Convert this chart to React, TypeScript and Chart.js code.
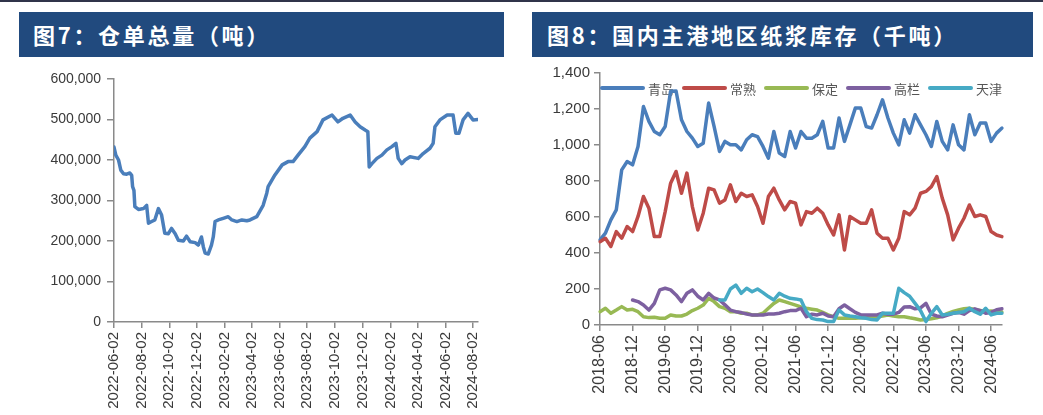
import React, { useEffect, useRef } from 'react';
import { Chart, registerables } from 'chart.js';

Chart.register(...registerables);

// ---------- Figure 7: warehouse receipts (tons) ----------
const receiptDates = [
  '2022-06-02', '2022-06-06', '2022-06-12', '2022-06-17', '2022-06-23', '2022-06-30',
  '2022-07-07', '2022-07-11', '2022-07-13', '2022-07-16', '2022-07-18', '2022-07-26',
  '2022-08-06', '2022-08-13', '2022-08-17', '2022-08-24', '2022-08-31', '2022-09-08',
  '2022-09-15', '2022-09-22', '2022-09-30', '2022-10-07', '2022-10-15', '2022-10-22',
  '2022-11-02', '2022-11-09', '2022-11-17', '2022-11-28', '2022-12-05', '2022-12-12',
  '2022-12-16', '2022-12-20', '2022-12-27', '2023-01-03', '2023-01-07', '2023-01-11',
  '2023-01-18', '2023-01-29', '2023-02-09', '2023-02-17', '2023-02-28', '2023-03-11',
  '2023-03-22', '2023-03-29', '2023-04-13', '2023-04-27', '2023-05-05', '2023-05-08',
  '2023-05-23', '2023-06-08', '2023-06-21', '2023-07-02', '2023-07-13', '2023-07-28',
  '2023-08-08', '2023-08-24', '2023-09-06', '2023-09-26', '2023-10-09', '2023-10-20',
  '2023-11-05', '2023-11-16', '2023-11-27', '2023-12-08', '2023-12-14', '2023-12-17',
  '2023-12-23', '2024-01-03', '2024-01-14', '2024-01-25', '2024-02-05', '2024-02-14',
  '2024-02-19', '2024-02-27', '2024-03-05', '2024-03-16', '2024-04-03', '2024-04-14',
  '2024-04-29', '2024-05-06', '2024-05-10', '2024-05-21', '2024-06-06', '2024-06-19',
  '2024-06-25', '2024-07-02', '2024-07-11', '2024-07-22', '2024-08-02', '2024-08-13',
];
const receiptValues = [
  432000, 412000, 400000, 375000, 366000, 365000,
  368000, 362000, 334000, 325000, 285000, 278000,
  280000, 288000, 244000, 248000, 252000, 280000,
  264000, 219000, 218000, 231000, 218000, 202000,
  200000, 212000, 198000, 196000, 190000, 210000,
  186000, 170000, 168000, 190000, 210000, 248000,
  252000, 256000, 260000, 252000, 248000, 252000,
  250000, 252000, 260000, 288000, 318000, 334000,
  363000, 388000, 396000, 396000, 412000, 433000,
  454000, 470000, 499000, 511000, 494000, 503000,
  511000, 494000, 482000, 474000, 470000, 383000,
  391000, 404000, 412000, 425000, 433000, 441000,
  404000, 391000, 400000, 408000, 404000, 416000,
  429000, 441000, 482000, 499000, 511000, 511000,
  466000, 466000, 499000, 515000, 499000, 500000,
];
const receiptTickLabels = [
  '2022-06-02', '2022-08-02', '2022-10-02', '2022-12-02', '2023-02-02', '2023-04-02', '2023-06-02',
  '2023-08-02', '2023-10-02', '2023-12-02', '2024-02-02', '2024-04-02', '2024-06-02', '2024-08-02',
];
const receiptAxisEnd = '2024-08-13';
const receiptYTicks = [0, 100000, 200000, 300000, 400000, 500000, 600000];

// ---------- Figure 8: pulp inventory at main ports (thousand tons) ----------
const portMonths = [
  '2018-06', '2018-07', '2018-08', '2018-09', '2018-10', '2018-11', '2018-12',
  '2019-01', '2019-02', '2019-03', '2019-04', '2019-05', '2019-06', '2019-07', '2019-08', '2019-09', '2019-10', '2019-11', '2019-12',
  '2020-01', '2020-02', '2020-03', '2020-04', '2020-05', '2020-06', '2020-07', '2020-08', '2020-09', '2020-10', '2020-11', '2020-12',
  '2021-01', '2021-02', '2021-03', '2021-04', '2021-05', '2021-06', '2021-07', '2021-08', '2021-09', '2021-10', '2021-11', '2021-12',
  '2022-01', '2022-02', '2022-03', '2022-04', '2022-05', '2022-06', '2022-07', '2022-08', '2022-09', '2022-10', '2022-11', '2022-12',
  '2023-01', '2023-02', '2023-03', '2023-04', '2023-05', '2023-06', '2023-07', '2023-08', '2023-09', '2023-10', '2023-11', '2023-12',
  '2024-01', '2024-02', '2024-03', '2024-04', '2024-05', '2024-06', '2024-07', '2024-08',
];
const portTickLabels = [
  '2018-06', '2018-12', '2019-06', '2019-12', '2020-06', '2020-12', '2021-06',
  '2021-12', '2022-06', '2022-12', '2023-06', '2023-12', '2024-06',
];
const portNames = ['青岛', '常熟', '保定', '高栏', '天津'];
const qingdao = [
  473, 510, 584, 640, 862, 908, 890, 992, 1214, 1131, 1075, 1057, 1103, 1298, 1300, 1140, 1075, 1038, 992, 1010,
  1233, 1103, 964, 1020, 1001, 1001, 973, 1029, 1057, 1047, 992, 927, 1075, 955, 936,
  1075, 983, 1075, 1038, 1038, 1057, 1131, 983, 983, 1150, 1020, 1112, 1205, 1205, 1103, 1094, 1168, 1251, 1150,
  1066, 1001, 1140, 1066, 1168, 1112, 1057, 992, 1131, 1020, 973, 1112, 1001, 973, 1168, 1057, 1122, 1122, 1020,
  1066, 1094,
];
const changshu = [
  463, 482, 436, 519, 482, 547, 519, 603, 714, 649, 491, 491, 630, 788, 853, 732, 844, 658, 528, 621,
  760, 751, 677, 695, 779, 686, 732, 714, 723, 658, 565, 714, 760, 695, 640,
  686, 677, 556, 630, 621, 649, 621, 556, 500, 612, 417, 603, 584, 565, 565, 640, 510, 482, 482,
  417, 482, 630, 612, 649, 732, 742, 769, 825, 705, 612, 473, 538, 593, 667, 603, 612, 603, 519,
  500, 491,
];
const baoding = [
  74, 93, 65, 83, 102, 83, 87, 74, 46, 41,
  43, 37, 37, 56, 50, 50, 61, 80, 93, 111,
  148, 130, 102, 93, 74, 74, 65, 65, 56, 56,
  65, 93, 120, 139, 130, 120, 110, 100, 93, 88,
  83, 70, 56, 45, 37, 37, 37, 37, 40, 40,
  40, 45, 50, 56, 50, 46, 46, 40, 35, 28,
  30, 35, 40, 50, 65, 75, 83, 90, 93, 85,
  80, 75, 78, 74, 72,
];
const gaolan = [
  null, null, null, null, null, null, 139, 130, 111, 83,
  120, 195, 204, 195, 167, 130, 176, 195, 160, 139,
  176, 150, 139, 112, 83, 74, 69, 61, 56, 56,
  56, 61, 61, 65, 74, 80, 80, 93, 46, 60,
  56, 65, 50, 46, 90, 111, 90, 70, 56, 56,
  56, 56, 65, 60, 60, 70, 100, 102, 90, 95,
  120, 60, 50, 46, 55, 65, 70, 60, 80, 90,
  80, 65, 70, 85, 90,
];
const tianjin = [
  null, null, null, null, null, null, null, null, null, null,
  null, null, null, null, null, null, null, null, null, null,
  null, null, 139, 139, 200, 222, 176, 204, 185, 200,
  180, 158, 139, 176, 160, 148, 145, 139, 74, 37,
  30, 28, 19, 19, 83, 56, 50, 46, 40, 37,
  30, 28, 65, 65, 65, 204, 180, 160, 120, 80,
  19, 65, 102, 56, 60, 65, 70, 74, 93, 74,
  60, 93, 56, 65, 65,
];
const portSeries = [qingdao, changshu, baoding, gaolan, tianjin];
const portColors = ['#4A7EBB', '#BE4B48', '#98B954', '#7D60A0', '#46AAC5'];
const portYTicks = [0, 200, 400, 600, 800, 1000, 1200, 1400];

const dayOf = (s: string) =>
  (Date.parse(s + 'T00:00:00Z') - Date.parse(receiptDates[0] + 'T00:00:00Z')) / 86400000;

const AXIS = '#8a8a8a';
const TICK_COLOR = '#3a3a3a';
const TICK_FONT = "'Liberation Sans', Arial, sans-serif";

// Legend drawn inside the plot area, in one row across the top.
const inlineLegend = {
  id: 'inlineLegend',
  beforeDatasetsDraw(chart: any) {
    const { ctx, chartArea } = chart;
    const datasets = chart.data.datasets;
    ctx.save();
    ctx.font = "13px 'Noto Sans CJK SC', sans-serif";
    const lineLen = 41;
    const cap = 2;
    const textGap = 5;
    const itemGap = 8;
    const widths = datasets.map(
      (ds: any) => cap + lineLen + cap + (textGap - cap) + ctx.measureText(ds.label).width
    );
    const total = widths.reduce((a: number, b: number) => a + b, 0) + itemGap * (datasets.length - 1);
    let x = (chartArea.left + chartArea.right) / 2 - total / 2;
    const y = chartArea.top + 15;
    datasets.forEach((ds: any, i: number) => {
      ctx.beginPath();
      ctx.lineCap = 'round';
      ctx.lineWidth = 4;
      ctx.strokeStyle = ds.borderColor;
      ctx.moveTo(x + cap, y);
      ctx.lineTo(x + cap + lineLen, y);
      ctx.stroke();
      ctx.fillStyle = '#555555';
      ctx.textBaseline = 'middle';
      ctx.textAlign = 'left';
      ctx.fillText(ds.label, x + cap + lineLen + textGap, y + 1);
      x += widths[i] + itemGap;
    });
    ctx.restore();
  },
};

function ReceiptChart() {
  const ref = useRef<HTMLCanvasElement | null>(null);
  useEffect(() => {
    if (!ref.current) return;
    const chart = new Chart(ref.current, {
      type: 'line',
      data: {
        datasets: [
          {
            label: '仓单总量',
            data: receiptDates.map((d, i) => ({ x: dayOf(d), y: receiptValues[i] })),
            borderColor: '#4A7EBB',
            backgroundColor: '#4A7EBB',
            borderWidth: 3.5,
            pointRadius: 0,
            tension: 0,
            borderJoinStyle: 'round',
            borderCapStyle: 'round',
          },
        ],
      },
      options: {
        animation: false,
        responsive: false,
        maintainAspectRatio: false,
        layout: { padding: { top: 19, right: 42, left: 0, bottom: 0 } },
        plugins: { legend: { display: false }, tooltip: { enabled: false } },
        scales: {
          x: {
            type: 'linear',
            min: 0,
            max: dayOf(receiptAxisEnd),
            afterBuildTicks: (s: any) => {
              s.ticks = receiptTickLabels.map((l) => ({ value: dayOf(l) }));
            },
            afterFit: (s: any) => {
              s.height = 93;
            },
            ticks: {
              autoSkip: false,
              minRotation: 90,
              maxRotation: 90,
              padding: 4,
              color: TICK_COLOR,
              font: { size: 15, family: TICK_FONT },
              callback: (v: any) => {
                const f = receiptTickLabels.find((l) => Math.abs(dayOf(l) - Number(v)) < 0.5);
                return f ?? '';
              },
            },
            grid: { drawOnChartArea: false, tickLength: 6, color: AXIS, lineWidth: 1.5 },
            border: { color: AXIS, width: 1.5 },
          },
          y: {
            min: 0,
            max: 600000,
            afterBuildTicks: (s: any) => {
              s.ticks = receiptYTicks.map((v) => ({ value: v }));
            },
            afterFit: (s: any) => {
              s.width = 114;
            },
            ticks: {
              padding: 6,
              color: TICK_COLOR,
              font: { size: 14, family: TICK_FONT },
              callback: (v: any) => Number(v).toLocaleString('en-US'),
            },
            grid: { drawOnChartArea: false, tickLength: 7, color: AXIS, lineWidth: 1.5 },
            border: { color: AXIS, width: 1.5 },
          },
        },
      },
    } as any);
    return () => chart.destroy();
  }, []);
  return (
    <canvas
      ref={ref}
      width={520}
      height={355}
      style={{ position: 'absolute', left: 0, top: 60, width: 520, height: 355, display: 'block' }}
    />
  );
}

function PortChart() {
  const ref = useRef<HTMLCanvasElement | null>(null);
  useEffect(() => {
    if (!ref.current) return;
    const n = portSeries.length;
    const chart = new Chart(ref.current, {
      type: 'line',
      data: {
        labels: portMonths,
        datasets: portSeries.map((s, i) => ({
          label: portNames[i],
          data: s,
          borderColor: portColors[i],
          backgroundColor: portColors[i],
          borderWidth: 3.5,
          pointRadius: 0,
          tension: 0,
          spanGaps: false,
          borderJoinStyle: 'round',
          borderCapStyle: 'round',
          order: n - i,
        })),
      },
      plugins: [inlineLegend],
      options: {
        animation: false,
        responsive: false,
        maintainAspectRatio: false,
        layout: { padding: { top: 13, right: 41, left: 0, bottom: 0 } },
        plugins: {
          tooltip: { enabled: false },
          legend: { display: false },
        },
        scales: {
          x: {
            type: 'category',
            offset: false,
            afterBuildTicks: (s: any) => {
              s.ticks = portTickLabels.map((l) => ({ value: portMonths.indexOf(l) }));
            },
            afterFit: (s: any) => {
              s.height = 90;
            },
            ticks: {
              autoSkip: false,
              minRotation: 90,
              maxRotation: 90,
              padding: 4,
              color: TICK_COLOR,
              font: { size: 16, family: TICK_FONT },
              callback: (v: any) => portMonths[Number(v)] ?? '',
            },
            grid: { drawOnChartArea: false, tickLength: 6, color: AXIS, lineWidth: 1.5 },
            border: { color: AXIS, width: 1.5 },
          },
          y: {
            min: 0,
            max: 1400,
            afterBuildTicks: (s: any) => {
              s.ticks = portYTicks.map((v) => ({ value: v }));
            },
            afterFit: (s: any) => {
              s.width = 80;
            },
            ticks: {
              padding: 4,
              color: TICK_COLOR,
              font: { size: 15, family: TICK_FONT },
              callback: (v: any) => Number(v).toLocaleString('en-US'),
            },
            grid: { drawOnChartArea: false, tickLength: 6, color: AXIS, lineWidth: 1.5 },
            border: { color: AXIS, width: 1.5 },
          },
        },
      },
    } as any);
    return () => chart.destroy();
  }, []);
  return (
    <canvas
      ref={ref}
      width={523}
      height={355}
      style={{ position: 'absolute', left: 520, top: 60, width: 523, height: 355, display: 'block' }}
    />
  );
}

const titleStyle: React.CSSProperties = {
  position: 'absolute',
  top: 12,
  height: 45,
  lineHeight: '45px',
  background: '#214A7E',
  color: '#ffffff',
  fontFamily: "'Noto Sans CJK SC', sans-serif",
  fontWeight: 700,
  fontSize: 22,
  letterSpacing: 2.7,
  whiteSpace: 'nowrap',
  boxSizing: 'border-box',
};

export default function App() {
  return (
    <div
      style={{
        position: 'absolute',
        left: 0,
        top: 0,
        width: 1043,
        height: 415,
        overflow: 'hidden',
        background: '#ffffff',
      }}
    >
      <div style={{ position: 'absolute', left: 0, top: 0, width: 1043, height: 2, background: '#30344a' }} />
      <div style={{ ...titleStyle, left: 19, width: 485, paddingLeft: 14 }}>图7：仓单总量（吨）</div>
      <div style={{ ...titleStyle, left: 532, width: 501, paddingLeft: 15 }}>图8：国内主港地区纸浆库存（千吨）</div>
      <ReceiptChart />
      <PortChart />
    </div>
  );
}
